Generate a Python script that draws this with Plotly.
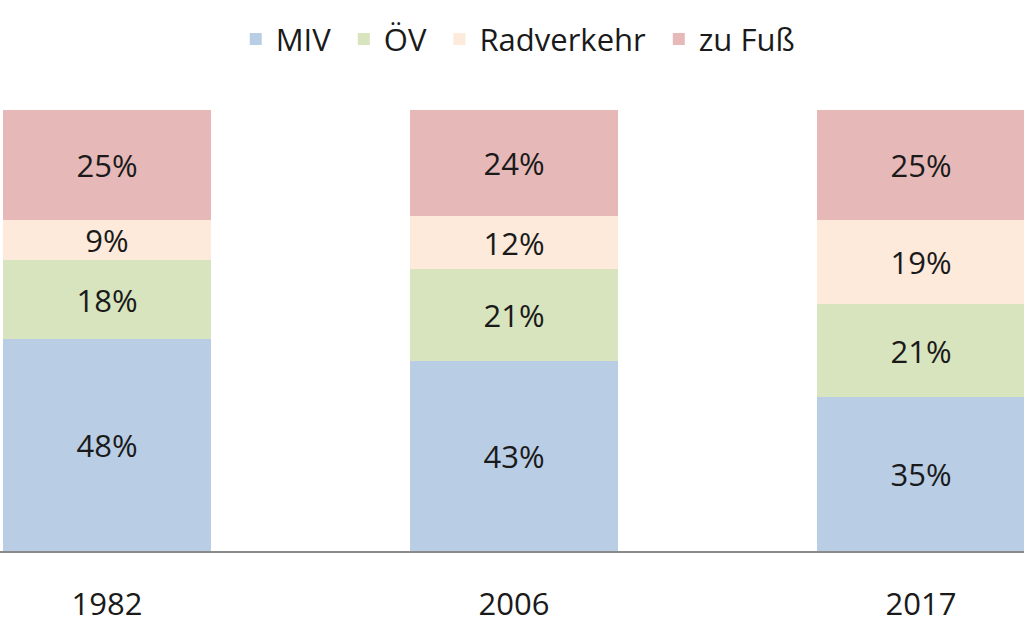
import plotly.graph_objects as go

years = ["1982", "2006", "2017"]
miv = [48, 43, 35]
oev = [18, 21, 21]
rad = [9, 12, 19]
fuss = [25, 24, 25]

series = [
    ("MIV", miv, "#B9CDE5"),
    ("ÖV", oev, "#D7E4BD"),
    ("Radverkehr", rad, "#FDEADA"),
    ("zu Fuß", fuss, "#E6B9B8"),
]

xpos = list(range(len(years)))

fig = go.Figure()
for name, vals, color in series:
    fig.add_trace(go.Bar(
        name=name + "\u00a0", x=xpos, y=vals,
        width=0.511,
        marker=dict(color=color, line=dict(width=0)),
        text=[f"{v}%" for v in vals],
        textposition="inside",
        insidetextanchor="middle",
        textfont=dict(color="#1a1a1a", size=31),
        hoverinfo="skip",
    ))

fig.update_layout(
    barmode="stack",
    width=1024, height=628,
    margin=dict(l=0, r=0, t=110, b=77),
    paper_bgcolor="white", plot_bgcolor="white",
    font=dict(family="Open Sans, Liberation Sans, sans-serif", size=31, color="#1a1a1a"),
    uniformtext=dict(minsize=31, mode="show"),
    legend=dict(
        orientation="h", traceorder="normal",
        x=0.51, xanchor="center", y=1.16, yanchor="middle",
        font=dict(size=31), itemwidth=30,
    ),
    bargap=0,
)
fig.update_xaxes(
    range=[-0.263, 2.253],
    tickvals=xpos, ticktext=years,
    showgrid=False, zeroline=False,
    showline=True, linecolor="#8a8a8a", linewidth=2,
    ticks="outside", ticklen=25, tickcolor="rgba(0,0,0,0)",
    tickfont=dict(size=31),
)
fig.update_yaxes(range=[0, 100], visible=False)

fig.write_html("out.html", config={"displayModeBar": False},
               post_script="document.body.style.margin='0';")
